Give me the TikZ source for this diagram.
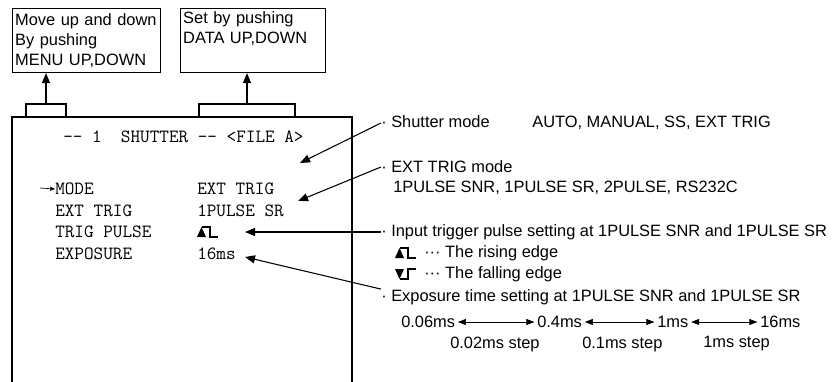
\documentclass[tikz,border=0pt]{standalone}
\usepackage{fontspec}
\setmainfont{Liberation Sans}
\usetikzlibrary{arrows.meta}

\tikzset{
  risepulse/.pic={
    \fill (0,0) -- (9,0) -- (4.5,-10) -- cycle;
    \draw[line width=0.8pt] (4.5,-10) -- (13,-10) -- (13,0) -- (21,0);
  },
  fallpulse/.pic={
    \fill (0,-10) -- (9,-10) -- (4.5,0) -- cycle;
    \draw[line width=0.8pt] (4.5,0) -- (13,0) -- (13,-10) -- (21,-10);
  }
}

\begin{document}
\begin{tikzpicture}[x=0.75pt, y=-0.75pt,
    >={Triangle[length=7.5pt, width=6pt]},
    every node/.style={inner sep=0pt, font=\fontsize{12.3}{15}\selectfont},
    msgbox/.style={draw, line width=0.8pt, anchor=north west, align=left,
      inner sep=2pt, minimum height=48pt},
    tab/.style={draw, line width=0.8pt, minimum height=9.75pt},
    scr/.style={anchor=west, font=\fontsize{14}{16}\selectfont\ttfamily},
    note/.style={anchor=west},
    ann/.style={->, line width=0.8pt},
    span/.style={<->, line width=0.4pt, shorten <=2pt, shorten >=2pt,
      >={Triangle[length=6pt, width=4.5pt]}}]

    \useasboundingbox (0,0) rectangle (833,382);

    % message boxes
    \node[msgbox, text width=107pt] (menubox) at (12,8) {Move up and down\\By pushing\\MENU UP,DOWN};
    \node[msgbox, text width=104.75pt] (databox) at (180,8) {Set by pushing\\DATA UP,DOWN\\\strut};

    % screen and key tabs
    \draw[line width=1pt] (12,392) -- (12,117) -- (352,117) -- (352,392);
    \node[tab, minimum width=30pt] (menutab) at (46,110.5) {};
    \node[tab, minimum width=72pt] (datatab) at (247,110.5) {};
    \draw[ann] (menutab.north) -- (menutab.north |- menubox.south);
    \draw[ann] (datatab.north) -- (datatab.north |- databox.south);

    % screen text
    \node[scr] (title) at (63,137) {-{}-~1~~SHUTTER~-{}-~<FILE~A>};
    \node[scr] (mode) at (55,189) {MODE};
    \draw[-{Triangle[length=3.5pt, width=3pt]}, line width=0.5pt] (40,188) -- (mode.west);
    \node[scr] (exttrig) at (55,211) {EXT TRIG};
    \node[scr] (trigpulse) at (55,232) {TRIG PULSE};
    \node[scr] (exposure) at (55,254) {EXPOSURE};
    \node[scr] (modeval) at (197,189) {EXT TRIG};
    \node[scr] (trigval) at (197,211) {1PULSE SR};
    \pic at (197,237) {risepulse};
    \node[scr] (expval) at (197,254) {16ms};

    % notes
    \node[note] (shutter) at (381,123) {·\ Shutter mode\hspace{2.6em}AUTO, MANUAL, SS, EXT TRIG};
    \node[note] (extmode) at (381,167) {·\ EXT TRIG mode};
    \node[note] (extlist) at (393,188) {1PULSE SNR, 1PULSE SR, 2PULSE, RS232C};
    \node[note] (input) at (381,232) {·\ Input trigger pulse setting at 1PULSE SNR and 1PULSE SR};
    \pic at (395,258) {risepulse};
    \node[note] (rising) at (424,253) {··· The rising edge};
    \pic at (395,279) {fallpulse};
    \node[note] (falling) at (424,274) {··· The falling edge};
    \node[note] (expo) at (381,297) {·\ Exposure time setting at 1PULSE SNR and 1PULSE SR};

    % exposure range
    \node[note] (t1) at (401,322) {0.06ms};
    \node[note] (t2) at (537,322) {0.4ms};
    \node[note] (t3) at (657,322) {1ms};
    \node[note] (t4) at (760,322) {16ms};
    \draw[span] (t1) -- (t2);
    \draw[span] (t2) -- (t3);
    \draw[span] (t3) -- (t4);
    \node[note] (s1) at (450,344) {0.02ms step};
    \node[note] (s2) at (582,344) {0.1ms step};
    \node[note] (s3) at (703,344) {1ms step};

    % pointers
    \coordinate (shuttertip) at (300,163);
    \coordinate (exttip) at (298,201);
    \coordinate (inputtip) at (245,232);
    \coordinate (expotip) at (245,257);
    \draw[ann] (shutter.west) -- (shuttertip);
    \draw[ann] (extmode.west) -- (exttip);
    \draw[ann] (input.west) -- (inputtip);
    \draw[ann] (expo.north west) -- (expotip);

\end{tikzpicture}
\end{document}
